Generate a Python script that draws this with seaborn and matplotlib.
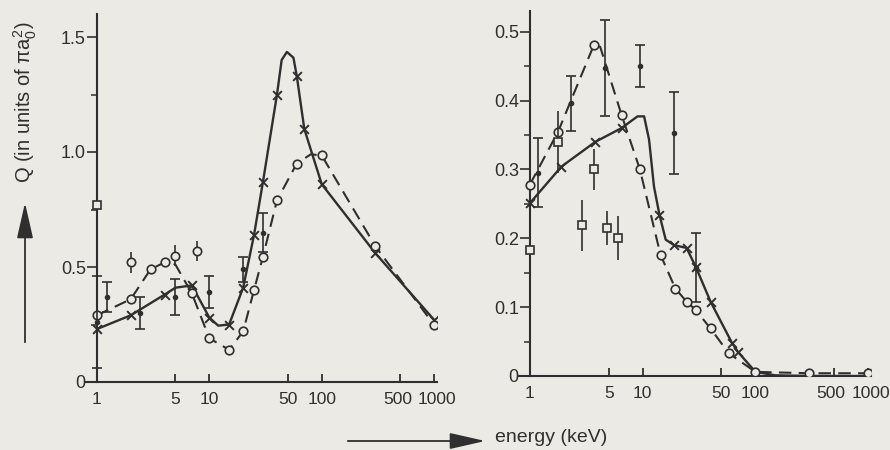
import matplotlib.pyplot as plt
import seaborn as sns
from matplotlib.patches import FancyArrowPatch
from matplotlib.transforms import ScaledTranslation
from matplotlib.ticker import FixedLocator, NullLocator

# ---- left panel: curves ----
left_solid_x = [1, 2, 4, 5, 7, 10, 12, 15, 20, 25, 30, 40, 44, 49, 56, 60, 70, 100, 300, 1000]
left_solid_y = [0.23, 0.29, 0.38, 0.41, 0.42, 0.28, 0.245, 0.25, 0.41, 0.64, 0.87, 1.25, 1.40, 1.435, 1.41, 1.33, 1.10, 0.86, 0.56, 0.27]
left_solid_mx = [1, 2, 4, 7, 10, 15, 20, 25, 30, 40, 60, 70, 100, 300, 1000]
left_solid_my = [0.23, 0.29, 0.38, 0.42, 0.28, 0.25, 0.41, 0.64, 0.87, 1.25, 1.33, 1.10, 0.86, 0.56, 0.27]

left_dash_x = [1, 2, 3, 4, 4.5, 5, 7, 10, 15, 20, 25, 30, 40, 60, 80, 100, 300, 1000]
left_dash_y = [0.29, 0.36, 0.49, 0.52, 0.525, 0.51, 0.385, 0.19, 0.14, 0.22, 0.40, 0.545, 0.79, 0.95, 0.99, 0.985, 0.59, 0.248]
left_dash_mx = [1, 2, 3, 4, 7, 10, 15, 20, 25, 30, 40, 60, 100, 300, 1000]
left_dash_my = [0.29, 0.36, 0.49, 0.52, 0.385, 0.19, 0.14, 0.22, 0.40, 0.545, 0.79, 0.95, 0.985, 0.59, 0.248]

# left panel: measurements
left_dot_x = [1, 1.22, 2.4, 5, 10, 20, 30]
left_dot_y = [0.26, 0.37, 0.30, 0.37, 0.39, 0.49, 0.65]
left_dot_err = [0.2, 0.065, 0.07, 0.08, 0.07, 0.055, 0.085]
left_circ_x = [2, 5, 7.7]
left_circ_y = [0.52, 0.55, 0.57]
left_circ_err = [0.045, 0.045, 0.045]
left_sq_x = [1]
left_sq_y = [0.77]

# ---- right panel: curves ----
right_solid_x = [1, 1.9, 3.8, 6.5, 9, 10.3, 11.4, 12.6, 14.1, 16, 19, 24.5, 29.5, 40, 62, 70, 100, 150, 300, 1000]
right_solid_y = [0.251, 0.304, 0.34, 0.36, 0.377, 0.377, 0.343, 0.275, 0.234, 0.198, 0.19, 0.186, 0.159, 0.108, 0.048, 0.035, 0.006, 0.001, 0.0, 0.0]
right_solid_mx = [1, 1.9, 3.8, 6.5, 14.1, 19, 24.5, 29.5, 40, 62, 70]
right_solid_my = [0.251, 0.304, 0.34, 0.36, 0.234, 0.19, 0.186, 0.159, 0.108, 0.048, 0.035]

right_dash_x = [1, 1.78, 3.7, 4.2, 6.5, 9.45, 14.4, 19.5, 24.5, 29.5, 40, 58, 100, 300, 1000]
right_dash_y = [0.278, 0.355, 0.481, 0.478, 0.379, 0.30, 0.176, 0.127, 0.108, 0.096, 0.069, 0.033, 0.006, 0.004, 0.004]
right_dash_mx = [1, 1.78, 3.7, 6.5, 9.45, 14.4, 19.5, 24.5, 29.5, 40, 58, 100, 300, 1000]
right_dash_my = [0.278, 0.355, 0.481, 0.379, 0.30, 0.176, 0.127, 0.108, 0.096, 0.069, 0.033, 0.006, 0.004, 0.004]

right_dot_x = [1.18, 2.3, 4.65, 9.4, 18.9, 29.5]
right_dot_y = [0.295, 0.396, 0.447, 0.45, 0.353, 0.157]
right_dot_err = [0.05, 0.04, 0.07, 0.03, 0.06, 0.05]
right_sq_x = [1, 1.78, 2.87, 3.7, 4.87, 6.1]
right_sq_y = [0.183, 0.34, 0.219, 0.30, 0.215, 0.20]
right_sq_err = [0, 0.045, 0.037, 0.03, 0.025, 0.032]

x_ticks = [1, 5, 10, 50, 100, 500, 1000]

ink = "#2f2f2f"
paper = "#ebeae5"

sns.set_theme(style="ticks")
plt.rcParams["font.family"] = ["Liberation Sans", "DejaVu Sans"]
plt.rcParams["mathtext.fontset"] = "custom"
plt.rcParams["mathtext.rm"] = "Liberation Sans"
plt.rcParams["mathtext.it"] = "Liberation Sans"

fig = plt.figure(figsize=(8.9, 4.5), dpi=100, facecolor=paper)
W, H = 890, 450
axL = fig.add_axes([86 / W, (H - 382) / H, 351 / W, 368 / H])
axR = fig.add_axes([519 / W, (H - 376) / H, 352 / W, 365 / H])


def panel(ax, solid, solid_m, dash, dash_m, ylim, major, minor, ylabels):
    ax.set_facecolor(paper)
    sns.lineplot(x=solid[0], y=solid[1], ax=ax, color=ink, lw=1.7,
                 estimator=None, sort=False)
    sns.lineplot(x=dash[0], y=dash[1], ax=ax, color=ink, lw=1.5,
                 estimator=None, sort=False, linestyle=(0, (6, 3.5)))
    sns.scatterplot(x=solid_m[0], y=solid_m[1], ax=ax, marker="x", s=40,
                    color=ink, linewidth=1.4, zorder=4)
    sns.scatterplot(x=dash_m[0], y=dash_m[1], ax=ax, marker="o", s=38,
                    facecolor=paper, edgecolor=ink, linewidth=1.2, zorder=4)
    ax.set_xscale("log")
    ax.set_xlim(0.8, 1060)
    ax.set_ylim(*ylim)
    ax.xaxis.set_major_locator(FixedLocator(x_ticks))
    ax.xaxis.set_minor_locator(NullLocator())
    ax.set_xticklabels([str(t) for t in x_ticks])
    ax.yaxis.set_major_locator(FixedLocator(major))
    ax.yaxis.set_minor_locator(FixedLocator(minor))
    ax.set_yticklabels(ylabels)
    for s in ("top", "right"):
        ax.spines[s].set_visible(False)
    ax.spines["left"].set_position(("data", 1))
    for s in ("left", "bottom"):
        ax.spines[s].set_color(ink)
        ax.spines[s].set_linewidth(1.5)
    ax.tick_params(axis="x", direction="in", length=6, width=1.3, color=ink,
                   labelsize=12.5, labelcolor=ink, pad=7)
    ax.tick_params(axis="y", which="major", direction="out", length=7, width=1.2,
                   color=ink, labelsize=13, labelcolor=ink, pad=1)
    ax.tick_params(axis="y", which="minor", direction="out", length=4, width=1.1,
                   color=ink)
    ax.set_xlabel("")
    ax.set_ylabel("")
    # nudge the two crowded labels apart a little
    labs = ax.get_xticklabels()
    labs[5].set_transform(labs[5].get_transform() + ScaledTranslation(-3 / 100, 0, fig.dpi_scale_trans))
    labs[6].set_transform(labs[6].get_transform() + ScaledTranslation(3 / 100, 0, fig.dpi_scale_trans))


panel(axL, (left_solid_x, left_solid_y), (left_solid_mx, left_solid_my),
      (left_dash_x, left_dash_y), (left_dash_mx, left_dash_my),
      (0, 1.6), [0, 0.5, 1.0, 1.5], [0.25, 0.75, 1.25], ["0", "0.5", "1.0", "1.5"])
panel(axR, (right_solid_x, right_solid_y), (right_solid_mx, right_solid_my),
      (right_dash_x, right_dash_y), (right_dash_mx, right_dash_my),
      (0, 0.53), [0, 0.1, 0.2, 0.3, 0.4, 0.5], [0.05, 0.15, 0.25, 0.35, 0.45],
      ["0", "0.1", "0.2", "0.3", "0.4", "0.5"])

eb = dict(color=ink, elinewidth=1.2, capsize=3.5, capthick=1.2, zorder=5, ls="none")
axL.errorbar(left_dot_x, left_dot_y, yerr=left_dot_err, fmt="o", ms=3, **eb)
axL.errorbar(left_circ_x, left_circ_y, yerr=left_circ_err, fmt="o", ms=6,
             mfc=paper, mec=ink, mew=1.2, capsize=0, color=ink, elinewidth=1.2, zorder=5)
axL.errorbar(left_sq_x, left_sq_y, fmt="s", ms=6, mfc=paper, mec=ink, mew=1.2, zorder=5)
axR.errorbar(right_dot_x, right_dot_y, yerr=right_dot_err, fmt="o", ms=3, **eb)
axR.errorbar(right_sq_x, right_sq_y, yerr=right_sq_err, fmt="s", ms=6,
             mfc=paper, mec=ink, mew=1.2, capsize=0, color=ink, elinewidth=1.2, zorder=5)

# axis captions with arrows
fig.text(25 / W, 1 - 102 / H, r"Q (in units of $\pi a_0^2$)", rotation=90,
         ha="center", va="center", fontsize=14.5, color=ink)
fig.patches.append(FancyArrowPatch(
    (25 / W, 1 - 345 / H), (25 / W, 1 - 200 / H), transform=fig.transFigure,
    arrowstyle="-|>,head_length=2.2,head_width=0.5", mutation_scale=10,
    color=ink, lw=1.3))
fig.patches.append(FancyArrowPatch(
    (345 / W, 1 - 441 / H), (488 / W, 1 - 441 / H), transform=fig.transFigure,
    arrowstyle="-|>,head_length=2.2,head_width=0.5", mutation_scale=10,
    color=ink, lw=1.3))
fig.text(495 / W, 1 - 437 / H, "energy (keV)", ha="left", va="center",
         fontsize=14, color=ink)

fig.savefig("out.png", dpi=100, facecolor=paper)
